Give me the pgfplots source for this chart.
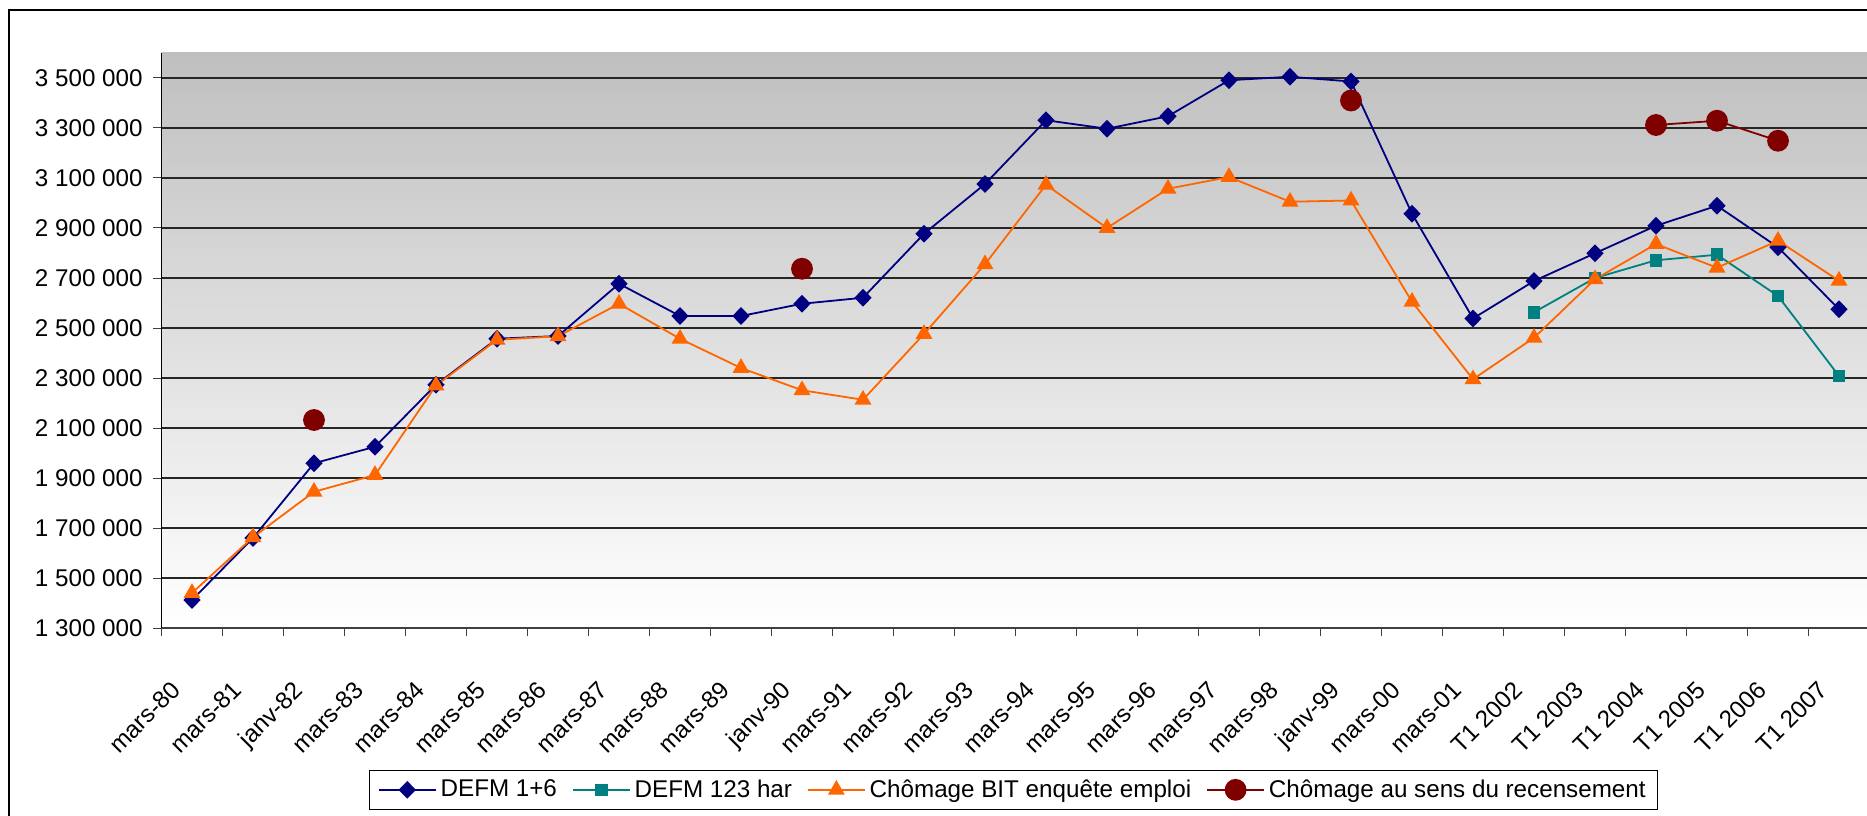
\documentclass[border=0pt]{standalone}
\usepackage{fontspec}
\setmainfont{Liberation Sans}
\usepackage{pgfplots}
\pgfplotsset{compat=1.18}
\definecolor{cNavy}{HTML}{000080}
\definecolor{cTeal}{HTML}{008080}
\definecolor{cOrange}{HTML}{FF6600}
\definecolor{cRed}{HTML}{800000}
\newcommand{\lbl}{\fontsize{12.1}{14}\selectfont}
\begin{document}
\begin{tikzpicture}
\useasboundingbox (0,0) rectangle (933.5pt,407.5pt);
\clip (0,0) rectangle (933.5pt,407.5pt);
\draw[black, line width=0.6pt] (4.5pt,-20pt) -- (4.5pt,402.5pt) -- (960pt,402.5pt);
\begin{axis}[
  at={(80.75pt,93.5pt)}, anchor=south west,
  scale only axis, width=854pt, height=287.5pt,
  xmin=-0.5, xmax=27.5, ymin=1300000, ymax=3600000,
  axis x line*=bottom, axis y line*=left,
  axis line style={-, line width=0.6pt},
  x axis line style={black!75},
  y axis line style={black},
  axis background/.style={top color=black!25, bottom color=white},
  scaled y ticks=false,
  tick align=outside, major tick length=4pt,
  tick style={line width=0.5pt, black!75},
  ytick={1300000,1500000,1700000,1900000,2100000,2300000,2500000,2700000,2900000,3100000,3300000,3500000},
  yticklabels={1 300 000,1 500 000,1 700 000,1 900 000,2 100 000,2 300 000,2 500 000,2 700 000,2 900 000,3 100 000,3 300 000,3 500 000},
  yticklabel style={font=\lbl, inner sep=0pt, anchor=east, xshift=-5.25pt},
  ymajorgrids, grid style={black!85, line width=0.6pt},
  xtick={-0.5,0.5,...,27.5},
  xticklabels={},
  extra x ticks={-0.36,0.64,1.64,2.64,3.64,4.64,5.64,6.64,7.64,8.64,9.64,10.64,11.64,12.64,13.64,14.64,15.64,16.64,17.64,18.64,19.64,20.64,21.64,22.64,23.64,24.64,25.64,26.64},
  extra x tick labels={mars-80,mars-81,janv-82,mars-83,mars-84,mars-85,mars-86,mars-87,mars-88,mars-89,janv-90,mars-91,mars-92,mars-93,mars-94,mars-95,mars-96,mars-97,mars-98,janv-99,mars-00,mars-01,T1 2002,T1 2003,T1 2004,T1 2005,T1 2006,T1 2007},
  extra x tick style={major tick length=0pt, xtick style={draw=none}, grid=none,
    xticklabel shift=25.5pt,
    xticklabel style={font=\lbl, inner sep=0pt, rotate=45, anchor=north east}},
  unbounded coords=jump,
  legend columns=4,
  legend style={at={(0.499,-0.247)}, anchor=north, draw=black, line width=0.5pt,
    font=\lbl, inner xsep=4pt, inner ysep=2.5pt,
    /tikz/every even column/.append style={column sep=5.5pt}},
  legend cell align=left,
  legend image code/.code={\draw[mark repeat=2,mark phase=2] plot coordinates {(0cm,0cm) (0.5cm,0cm) (1cm,0cm)};},
]
\addplot[cNavy, line width=0.9pt, mark=diamond*, mark size=3.8pt, mark options={solid, xscale=1.3}] coordinates {
(0,1412000) (1,1660000) (2,1959000) (3,2025000) (4,2273000) (5,2457000) (6,2468000) (7,2677000)
(8,2548000) (9,2548000) (10,2597000) (11,2621000) (12,2877000) (13,3076000) (14,3331000) (15,3297000)
(16,3347000) (17,3491000) (18,3505000) (19,3486000) (20,2957000) (21,2538000) (22,2688000) (23,2799000)
(24,2909000) (25,2989000) (26,2823000) (27,2575000)};
\addlegendentry{DEFM 1+6}
\addplot[cTeal, line width=0.9pt, mark=square*, mark size=2.7pt, mark options={solid}] coordinates {
(22,2563000) (23,2700000) (24,2771000) (25,2793000) (26,2628000) (27,2308000)};
\addlegendentry{DEFM 123 har}
\addplot[cOrange, line width=0.9pt, mark=triangle*, mark size=4pt, mark options={solid}] coordinates {
(0,1440000) (1,1663000) (2,1845000) (3,1912000) (4,2270000) (5,2453000) (6,2467000) (7,2597000)
(8,2457000) (9,2340000) (10,2251000) (11,2213000) (12,2476000) (13,2755000) (14,3073000) (15,2900000)
(16,3057000) (17,3104000) (18,3005000) (19,3010000) (20,2605000) (21,2295000) (22,2461000) (23,2695000)
(24,2836000) (25,2741000) (26,2849000) (27,2689000)};
\addlegendentry{Chômage BIT enquête emploi}
\addplot[cRed, line width=0.9pt, mark=*, mark size=5pt, mark options={solid}] coordinates {
(2,2132000) (3,nan) (10,2737000) (11,nan) (19,3410000) (20,nan) (24,3312000) (25,3329000) (26,3249000)};
\addlegendentry{Chômage au sens du recensement}
\end{axis}
\end{tikzpicture}
\end{document}
